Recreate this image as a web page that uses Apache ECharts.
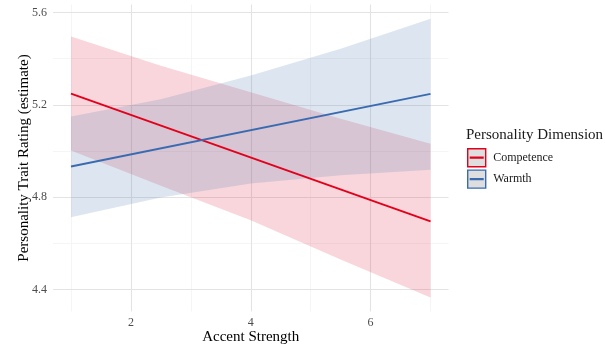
<!DOCTYPE html>
<html>
<head>
<meta charset="utf-8">
<script src="https://cdn.jsdelivr.net/npm/echarts@6/dist/echarts.min.js"></script>
<style>html,body{margin:0;padding:0;background:#fff}#c{width:605px;height:345px}</style>
</head>
<body>
<div id="c"></div>
<script>
// ---- data ----
var seriesNames = ['Competence', 'Warmth'];
var lineX = [1, 7];
var competenceFit = [5.249, 4.695];
var warmthFit = [4.933, 5.248];
var bandX = [1, 2.5, 4, 5.5, 7];
var competenceLower = [5.003, 4.85, 4.70, 4.53, 4.366];
var competenceUpper = [5.496, 5.37, 5.255, 5.14, 5.032];
var warmthLower = [4.713, 4.799, 4.86, 4.895, 4.919];
var warmthUpper = [5.150, 5.225, 5.327, 5.443, 5.573];
var xTickLabels = [2, 4, 6];
var xMinorGrid = [1, 3, 5, 7];
var yTickLabels = [4.4, 4.8, 5.2, 5.6];
var yMinorGrid = [4.6, 5.0, 5.4];

var RED = '#E3001B', BLUE = '#3A6BB0';
var FONT = '"Liberation Serif", "Times New Roman", serif';

function bandData(lo, up) {
  return bandX.map(function (x, i) { return [x, lo[i], up[i]]; });
}
function bandSeries(name, lo, up, fill) {
  return {
    type: 'custom', name: name + ' band', z: 2, silent: true,
    data: bandData(lo, up),
    encode: { x: 0, y: [1, 2] },
    renderItem: function (params, api) {
      if (params.dataIndex !== 0) return null;
      var pts = [];
      for (var i = 0; i < bandX.length; i++) pts.push(api.coord([bandX[i], up[i]]));
      for (var j = bandX.length - 1; j >= 0; j--) pts.push(api.coord([bandX[j], lo[j]]));
      return { type: 'polygon', shape: { points: pts }, style: { fill: fill, stroke: null } };
    }
  };
}
function lineData(vals) { return lineX.map(function (x, i) { return [x, vals[i]]; }); }

var major = '#E3E3E3', minor = '#F2F2F2';
var gridLines = [];
function gl(key, v, color, w) {
  var o = { lineStyle: { color: color, width: w, type: 'solid' } };
  o[key] = v;
  gridLines.push(o);
}
xMinorGrid.forEach(function (v) { gl('xAxis', v, minor, 0.8); });
yMinorGrid.forEach(function (v) { gl('yAxis', v, minor, 0.8); });
xTickLabels.forEach(function (v) { gl('xAxis', v, major, 1.1); });
yTickLabels.forEach(function (v) { gl('yAxis', v, major, 1.1); });

var chart = echarts.init(document.getElementById('c'), null, { renderer: 'canvas' });
chart.setOption({
  animation: false,
  backgroundColor: '#ffffff',
  textStyle: { fontFamily: FONT },
  grid: { left: 53, right: 156.5, top: 4.5, bottom: 33.5, containLabel: false, outerBoundsMode: 'none' },
  title: {
    text: 'Personality Dimension', left: 466, top: 128, padding: 0,
    textStyle: { fontFamily: FONT, fontSize: 15, fontWeight: 'normal', color: '#1a1a1a' }
  },
  legend: {
    data: seriesNames.map(function (n, i) {
      return { name: n, itemStyle: { color: '#DEDEDE', borderColor: i === 0 ? RED : BLUE, borderWidth: 1.4 } };
    }),
    orient: 'vertical', left: 467, top: 148, padding: 0,
    itemWidth: 19, itemHeight: 18, itemGap: 2,
    icon: 'path://M0,0 H18 V18 H0 Z M2,8.6 H16 M2,9.4 H16',
    textStyle: { fontFamily: FONT, fontSize: 12, color: '#1a1a1a', padding: [0, 0, 0, 2] }
  },
  xAxis: {
    type: 'value', min: 0.7, max: 7.3,
    name: 'Accent Strength', nameLocation: 'middle', nameGap: 18, nameMoveOverlap: false,
    nameTextStyle: { fontFamily: FONT, fontSize: 15, color: '#000' },
    axisLine: { show: false }, axisTick: { show: false, customValues: xTickLabels },
    splitLine: { show: false },
    axisLabel: { customValues: xTickLabels, fontFamily: FONT, fontSize: 12, color: '#4D4D4D', margin: 5 }
  },
  yAxis: {
    type: 'value', min: 4.305, max: 5.635,
    name: 'Personality Trait Rating (estimate)', nameLocation: 'middle', nameGap: 21, nameMoveOverlap: false,
    nameTextStyle: { fontFamily: FONT, fontSize: 15, color: '#000' },
    axisLine: { show: false }, axisTick: { show: false, customValues: yTickLabels },
    splitLine: { show: false },
    axisLabel: {
      customValues: yTickLabels, fontFamily: FONT, fontSize: 12, color: '#4D4D4D', margin: 6,
      formatter: function (v) { return v.toFixed(1); }
    }
  },
  series: [
    {
      type: 'line', name: 'gridlines', data: [], z: 0, silent: true,
      markLine: { silent: true, z: 0, symbol: ['none', 'none'], label: { show: false }, animation: false, data: gridLines }
    },
    bandSeries('Competence', competenceLower, competenceUpper, 'rgba(222,50,80,0.2)'),
    bandSeries('Warmth', warmthLower, warmthUpper, 'rgba(85,130,180,0.2)'),
    { type: 'line', name: 'Competence', data: lineData(competenceFit), showSymbol: false, z: 3,
      lineStyle: { color: RED, width: 1.9 }, itemStyle: { color: RED } },
    { type: 'line', name: 'Warmth', data: lineData(warmthFit), showSymbol: false, z: 3,
      lineStyle: { color: BLUE, width: 1.9 }, itemStyle: { color: BLUE } }
  ]
});
</script>
</body>
</html>
